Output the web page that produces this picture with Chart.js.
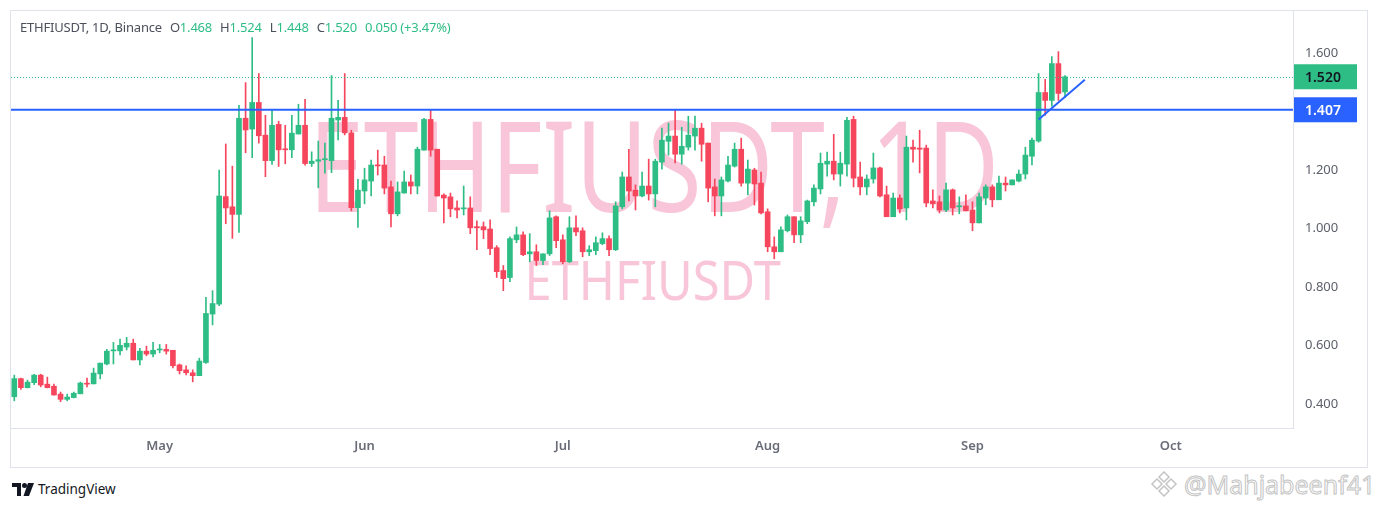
<!DOCTYPE html>
<html lang="en">
<head>
  <meta charset="UTF-8" />
  <title>ETHFIUSDT, 1D, Binance</title>
  <style>
    body {
      margin: 0;
      width: 1378px;
      height: 507px;
      background: #ffffff;
      font-family: "Noto Sans", Arial, sans-serif;
      position: relative;
      overflow: hidden;
    }
    #frame {
      position: absolute;
      left: 10px;
      top: 10px;
      width: 1358px;
      height: 458px;
      box-sizing: border-box;
      border: 1px solid #e0e3eb;
    }
    #chartBox {
      position: absolute;
      left: 0;
      top: 0;
      width: 1356px;
      height: 456px;
      z-index: 2;
    }
    .wm {
      position: absolute;
      color: #f8c6d8;
      white-space: nowrap;
      z-index: 1;
      transform-origin: center center;
      line-height: 1;
    }
    #wmBig { font-size: 126px; }
    #wmSmall { font-size: 54px; }
    #header {
      position: absolute;
      left: 20px;
      top: 18px;
      font-size: 13px;
      letter-spacing: -0.2px;
      color: #4c505c;
      z-index: 3;
      white-space: nowrap;
      display: flex;
    }
    #header .g { color: #2ebd85; }
    #header .sp { margin-left: 8px; }
    #tvlogo {
      position: absolute;
      left: 12px;
      top: 480px;
      display: flex;
      align-items: center;
      font-size: 13.5px;
      color: #131722;
    }
    #tvlogo svg { margin-right: 4px; }
    #credit {
      position: absolute;
      left: 1150px;
      top: 467px;
      display: flex;
      align-items: center;
      font-size: 25px;
      color: #ffffff;
      -webkit-text-stroke: 1px #c4c4c4;
      white-space: nowrap;
    }
    #credit svg { margin-right: 6px; }
  </style>
</head>
<body>
  <div id="frame">
    <div class="wm" id="wmBig">ETHFIUSDT, 1D</div>
    <div class="wm" id="wmSmall">ETHFIUSDT</div>
    <div id="chartBox"><canvas id="chart"></canvas></div>
  </div>

  <div id="header"><span>ETHFIUSDT, 1D, Binance</span><span class="sp">O<span class="g">1.468</span></span><span class="sp">H<span class="g">1.524</span></span><span class="sp">L<span class="g">1.448</span></span><span class="sp">C<span class="g">1.520</span></span><span class="sp g">0.050 (+3.47%)</span></div>

  <div id="tvlogo">
    <svg width="22" height="13" viewBox="0 0 22 13">
      <path d="M0 0h9v13h-4v-9h-5z" fill="#131722" />
      <circle cx="12.5" cy="2.5" r="2.5" fill="#131722" />
      <path d="M16 0h6l-5 13h-5.5z" fill="#131722" />
    </svg>
    TradingView
  </div>

  <div id="credit">
    <svg width="28" height="28" viewBox="0 0 28 28" fill="none" stroke="#c4c4c4" stroke-width="1.5">
      <path d="M14 2l5 5-5 5-5-5z" />
      <path d="M7 9l5 5-5 5-5-5z" />
      <path d="M21 9l5 5-5 5-5-5z" />
      <path d="M14 16l5 5-5 5-5-5z" />
    </svg>
    @Mahjabeenf41
  </div>

  <script src="https://cdn.jsdelivr.net/npm/chart.js"></script>
  <script>
    // categories: daily candles from 9 Apr, axis runs on past the last candle
    const startDate = Date.UTC(2024, 3, 9);
    const totalDays = 194;
    const monthNames = ['Jan', 'Feb', 'Mar', 'Apr', 'May', 'Jun', 'Jul', 'Aug', 'Sep', 'Oct', 'Nov', 'Dec'];

    // OHLC
    const open = [
      0.425, 0.487, 0.456, 0.473, 0.499, 0.468, 0.461, 0.434, 0.416, 0.422,
      0.435, 0.471, 0.469, 0.503, 0.537, 0.582, 0.582, 0.595, 0.608, 0.551,
      0.581, 0.571, 0.585, 0.587, 0.584, 0.534, 0.517, 0.507, 0.497, 0.542,
      0.708, 0.742, 1.110, 1.075, 1.049, 1.378, 1.341, 1.432, 1.320, 1.233,
      1.357, 1.272, 1.270, 1.324, 1.354, 1.223, 1.231, 1.236, 1.233, 1.372,
      1.381, 1.328, 1.072, 1.129, 1.163, 1.218, 1.218, 1.143, 1.051, 1.122,
      1.160, 1.146, 1.269, 1.374, 1.272, 1.115, 1.109, 1.071, 1.068, 1.071,
      1.007, 1.007, 0.999, 0.935, 0.857, 0.833, 0.962, 0.979, 0.914, 0.921,
      0.891, 0.914, 1.041, 0.962, 0.887, 1.003, 0.993, 0.921, 0.925, 0.949,
      0.966, 0.928, 1.075, 1.177, 1.132, 1.112, 1.146, 1.119, 1.228, 1.299,
      1.317, 1.255, 1.279, 1.317, 1.344, 1.293, 1.143, 1.112, 1.163, 1.214,
      1.272, 1.156, 1.201, 1.156, 1.058, 0.938, 0.921, 0.993, 1.041, 0.979,
      1.024, 1.092, 1.136, 1.221, 1.231, 1.187, 1.221, 1.374, 1.177, 1.143,
      1.170, 1.208, 1.116, 1.041, 1.105, 1.071, 1.279, 1.276, 1.276, 1.095,
      1.092, 1.064, 1.133, 1.075, 1.078, 1.064, 1.020, 1.105, 1.143, 1.099,
      1.156, 1.150, 1.163, 1.187, 1.248, 1.300, 1.466, 1.439, 1.565, 1.468
    ];
    const high = [
      0.499, 0.489, 0.482, 0.502, 0.502, 0.492, 0.468, 0.441, 0.434, 0.441,
      0.475, 0.489, 0.523, 0.540, 0.587, 0.611, 0.622, 0.628, 0.622, 0.591,
      0.598, 0.611, 0.604, 0.604, 0.584, 0.537, 0.531, 0.517, 0.557, 0.765,
      0.788, 1.201, 1.290, 1.214, 1.422, 1.500, 1.654, 1.531, 1.388, 1.405,
      1.368, 1.354, 1.388, 1.426, 1.443, 1.263, 1.300, 1.293, 1.524, 1.439,
      1.531, 1.337, 1.169, 1.207, 1.235, 1.269, 1.248, 1.163, 1.160, 1.197,
      1.184, 1.279, 1.378, 1.405, 1.272, 1.119, 1.122, 1.095, 1.146, 1.109,
      1.027, 1.023, 1.030, 0.942, 0.874, 0.972, 1.006, 0.989, 0.983, 0.945,
      0.914, 1.061, 1.044, 0.979, 1.041, 1.044, 1.003, 0.942, 0.972, 0.986,
      0.976, 1.092, 1.194, 1.272, 1.150, 1.194, 1.238, 1.238, 1.344, 1.361,
      1.405, 1.347, 1.385, 1.385, 1.361, 1.293, 1.170, 1.177, 1.248, 1.293,
      1.310, 1.235, 1.207, 1.194, 1.068, 0.972, 1.006, 1.047, 1.041, 1.041,
      1.098, 1.150, 1.259, 1.262, 1.323, 1.262, 1.381, 1.385, 1.228, 1.184,
      1.259, 1.211, 1.146, 1.122, 1.116, 1.317, 1.303, 1.337, 1.286, 1.133,
      1.112, 1.156, 1.136, 1.109, 1.116, 1.092, 1.122, 1.150, 1.150, 1.180,
      1.177, 1.167, 1.201, 1.279, 1.310, 1.531, 1.511, 1.589, 1.606, 1.524
    ];
    const low = [
      0.411, 0.450, 0.455, 0.466, 0.459, 0.455, 0.430, 0.408, 0.411, 0.421,
      0.435, 0.459, 0.469, 0.486, 0.534, 0.537, 0.568, 0.585, 0.551, 0.534,
      0.565, 0.561, 0.575, 0.571, 0.524, 0.503, 0.500, 0.476, 0.497, 0.539,
      0.671, 0.737, 1.017, 0.967, 0.987, 1.260, 1.243, 1.293, 1.178, 1.220,
      1.213, 1.222, 1.243, 1.324, 1.217, 1.213, 1.140, 1.190, 1.192, 1.304,
      1.321, 1.061, 1.004, 1.085, 1.112, 1.184, 1.119, 1.006, 1.044, 1.122,
      1.119, 1.119, 1.269, 1.248, 1.112, 1.020, 1.041, 1.037, 1.047, 0.983,
      0.928, 0.966, 0.911, 0.833, 0.788, 0.819, 0.952, 0.908, 0.887, 0.874,
      0.877, 0.908, 0.935, 0.880, 0.884, 0.976, 0.904, 0.908, 0.911, 0.945,
      0.908, 0.925, 1.068, 1.095, 1.064, 1.109, 1.098, 1.075, 1.204, 1.252,
      1.225, 1.221, 1.269, 1.269, 1.231, 1.092, 1.044, 1.044, 1.160, 1.211,
      1.146, 1.116, 1.081, 1.051, 0.921, 0.897, 0.921, 0.989, 0.952, 0.952,
      1.017, 1.078, 1.119, 1.180, 1.167, 1.146, 1.180, 1.143, 1.116, 1.116,
      1.156, 1.109, 1.041, 1.041, 1.054, 1.030, 1.228, 1.191, 1.075, 1.071,
      1.054, 1.058, 1.047, 1.051, 1.061, 0.993, 1.020, 1.082, 1.075, 1.099,
      1.129, 1.150, 1.160, 1.170, 1.218, 1.296, 1.388, 1.419, 1.439, 1.448
    ];
    const close = [
      0.487, 0.456, 0.475, 0.499, 0.465, 0.456, 0.431, 0.416, 0.424, 0.437,
      0.472, 0.468, 0.506, 0.540, 0.581, 0.584, 0.601, 0.608, 0.551, 0.581,
      0.571, 0.584, 0.587, 0.581, 0.531, 0.514, 0.507, 0.497, 0.547, 0.710,
      0.744, 1.112, 1.071, 1.049, 1.378, 1.338, 1.432, 1.318, 1.233, 1.354,
      1.270, 1.270, 1.327, 1.354, 1.223, 1.231, 1.236, 1.237, 1.378, 1.381,
      1.328, 1.072, 1.132, 1.167, 1.218, 1.215, 1.139, 1.051, 1.126, 1.160,
      1.146, 1.272, 1.374, 1.269, 1.112, 1.105, 1.068, 1.064, 1.071, 1.003,
      1.003, 0.996, 0.932, 0.853, 0.829, 0.966, 0.979, 0.911, 0.921, 0.891,
      0.914, 1.037, 0.959, 0.887, 1.003, 0.989, 0.921, 0.928, 0.952, 0.966,
      0.928, 1.078, 1.177, 1.129, 1.112, 1.146, 1.119, 1.231, 1.303, 1.317,
      1.255, 1.282, 1.320, 1.344, 1.289, 1.139, 1.112, 1.167, 1.218, 1.272,
      1.156, 1.204, 1.153, 1.054, 0.938, 0.921, 0.996, 1.041, 0.979, 1.027,
      1.095, 1.139, 1.224, 1.231, 1.187, 1.224, 1.371, 1.173, 1.143, 1.170,
      1.208, 1.112, 1.041, 1.105, 1.068, 1.279, 1.272, 1.272, 1.088, 1.085,
      1.064, 1.133, 1.071, 1.078, 1.061, 1.020, 1.109, 1.143, 1.099, 1.156,
      1.150, 1.167, 1.187, 1.252, 1.303, 1.466, 1.439, 1.565, 1.463, 1.520
    ];

    const yTicks = [0.4, 0.6, 0.8, 1.0, 1.2, 1.6];
    const yMin = 0.318;
    const yMax = 1.745;
    const supportLevel = 1.407;
    const lastPrice = 1.520;
    // short rising trend line under the last candles: [day index, price]
    const trendStart = [155, 1.374];
    const trendEnd = [162, 1.510];

    const upColor = '#2ebd85';
    const downColor = '#f6465d';
    const blue = '#2962ff';

    const days = [];
    for (let i = 0; i < totalDays; i++) {
      days.push(new Date(startDate + i * 86400000).toISOString().slice(0, 10));
    }

    const candleColors = open.map((o, i) => (close[i] >= o ? upColor : downColor));
    const trend = days.map(() => null);
    trend[trendStart[0]] = trendStart[1];
    trend[trendEnd[0]] = trendEnd[1];

    // axes should not push the plot in from the frame
    function noPadding(scale) {
      scale.paddingTop = 0;
      scale.paddingBottom = 0;
      scale.paddingLeft = 0;
      scale.paddingRight = 0;
    }

    // price lines and right-axis price tags
    const priceLines = {
      id: 'priceLines',
      afterDatasetsDraw(chart) {
        const { ctx, chartArea } = chart;
        const y = chart.scales.y;
        ctx.save();
        // dotted last-price line, one pixel dots
        const yl = Math.round(y.getPixelForValue(lastPrice));
        ctx.fillStyle = upColor;
        for (let x = Math.round(chartArea.left); x < chartArea.right; x += 3) {
          ctx.fillRect(x, yl, 1, 1);
        }
        const ys = y.getPixelForValue(supportLevel);
        ctx.strokeStyle = blue;
        ctx.lineWidth = 2;
        ctx.beginPath();
        ctx.moveTo(chartArea.left, ys);
        ctx.lineTo(chartArea.right, ys);
        ctx.stroke();
        ctx.restore();
      },
      afterDraw(chart) {
        const { ctx, chartArea } = chart;
        const y = chart.scales.y;
        const tags = [
          [lastPrice, upColor, '#131722'],
          [supportLevel, blue, '#ffffff']
        ];
        ctx.save();
        ctx.font = '600 14px "Noto Sans", Arial, sans-serif';
        ctx.textBaseline = 'middle';
        tags.forEach(([v, bg, fg]) => {
          const py = y.getPixelForValue(v);
          ctx.fillStyle = bg;
          ctx.fillRect(chartArea.right + 1, py - 12.5, 63, 25);
          ctx.fillStyle = fg;
          ctx.fillText(v.toFixed(3), chartArea.right + 12, py + 1);
        });
        ctx.restore();
      }
    };

    const ctx = document.getElementById('chart').getContext('2d');
    new Chart(ctx, {
      type: 'bar',
      data: {
        labels: days,
        datasets: [
          {
            label: 'wick',
            data: low.map((l, i) => [l, high[i]]),
            backgroundColor: candleColors,
            barThickness: 1,
            grouped: false,
            order: 2
          },
          {
            label: 'body',
            data: open.map((o, i) => [o, close[i]]),
            backgroundColor: candleColors,
            barThickness: 5,
            minBarLength: 1,
            grouped: false,
            order: 1
          },
          {
            type: 'line',
            label: 'trend',
            data: trend,
            borderColor: blue,
            borderWidth: 2,
            pointRadius: 0,
            spanGaps: true,
            order: 0
          }
        ]
      },
      options: {
        responsive: true,
        maintainAspectRatio: false,
        animation: false,
        layout: { padding: 0 },
        plugins: {
          legend: { display: false },
          tooltip: { enabled: false }
        },
        scales: {
          x: {
            type: 'category',
            offset: true,
            grid: { display: false, drawTicks: false },
            border: { display: true, color: '#e0e3eb' },
            afterFit(scale) { scale.height = 39; noPadding(scale); },
            ticks: {
              autoSkip: false,
              maxRotation: 0,
              minRotation: 0,
              padding: 10,
              color: '#6a6d78',
              font: { family: '"Noto Sans", Arial, sans-serif', size: 13, weight: '600' },
              callback(val, idx) {
                const d = new Date(days[idx]);
                return d.getUTCDate() === 1 ? monthNames[d.getUTCMonth()] : '';
              }
            }
          },
          y: {
            position: 'right',
            min: yMin,
            max: yMax,
            grid: { display: false, drawTicks: false },
            border: { display: true, color: '#e0e3eb' },
            afterFit(scale) { scale.width = 74; noPadding(scale); },
            afterBuildTicks(scale) {
              scale.ticks = yTicks.map(v => ({ value: v }));
            },
            ticks: {
              padding: 12,
              color: '#5d606b',
              font: { family: '"Noto Sans", Arial, sans-serif', size: 13 },
              callback: v => Number(v).toFixed(3)
            }
          }
        }
      },
      plugins: [priceLines]
    });

    // watermark text squeezed to the width it has in the picture
    function placeWatermark(id, cx, cy, targetWidth) {
      const el = document.getElementById(id);
      const w = el.offsetWidth;
      const h = el.offsetHeight;
      el.style.left = (cx - w / 2) + 'px';
      el.style.top = (cy - h / 2) + 'px';
      el.style.transform = 'scaleX(' + (targetWidth / w) + ')';
    }
    placeWatermark('wmBig', 643, 152, 690);
    placeWatermark('wmSmall', 641, 268, 256);
  </script>
</body>
</html>
